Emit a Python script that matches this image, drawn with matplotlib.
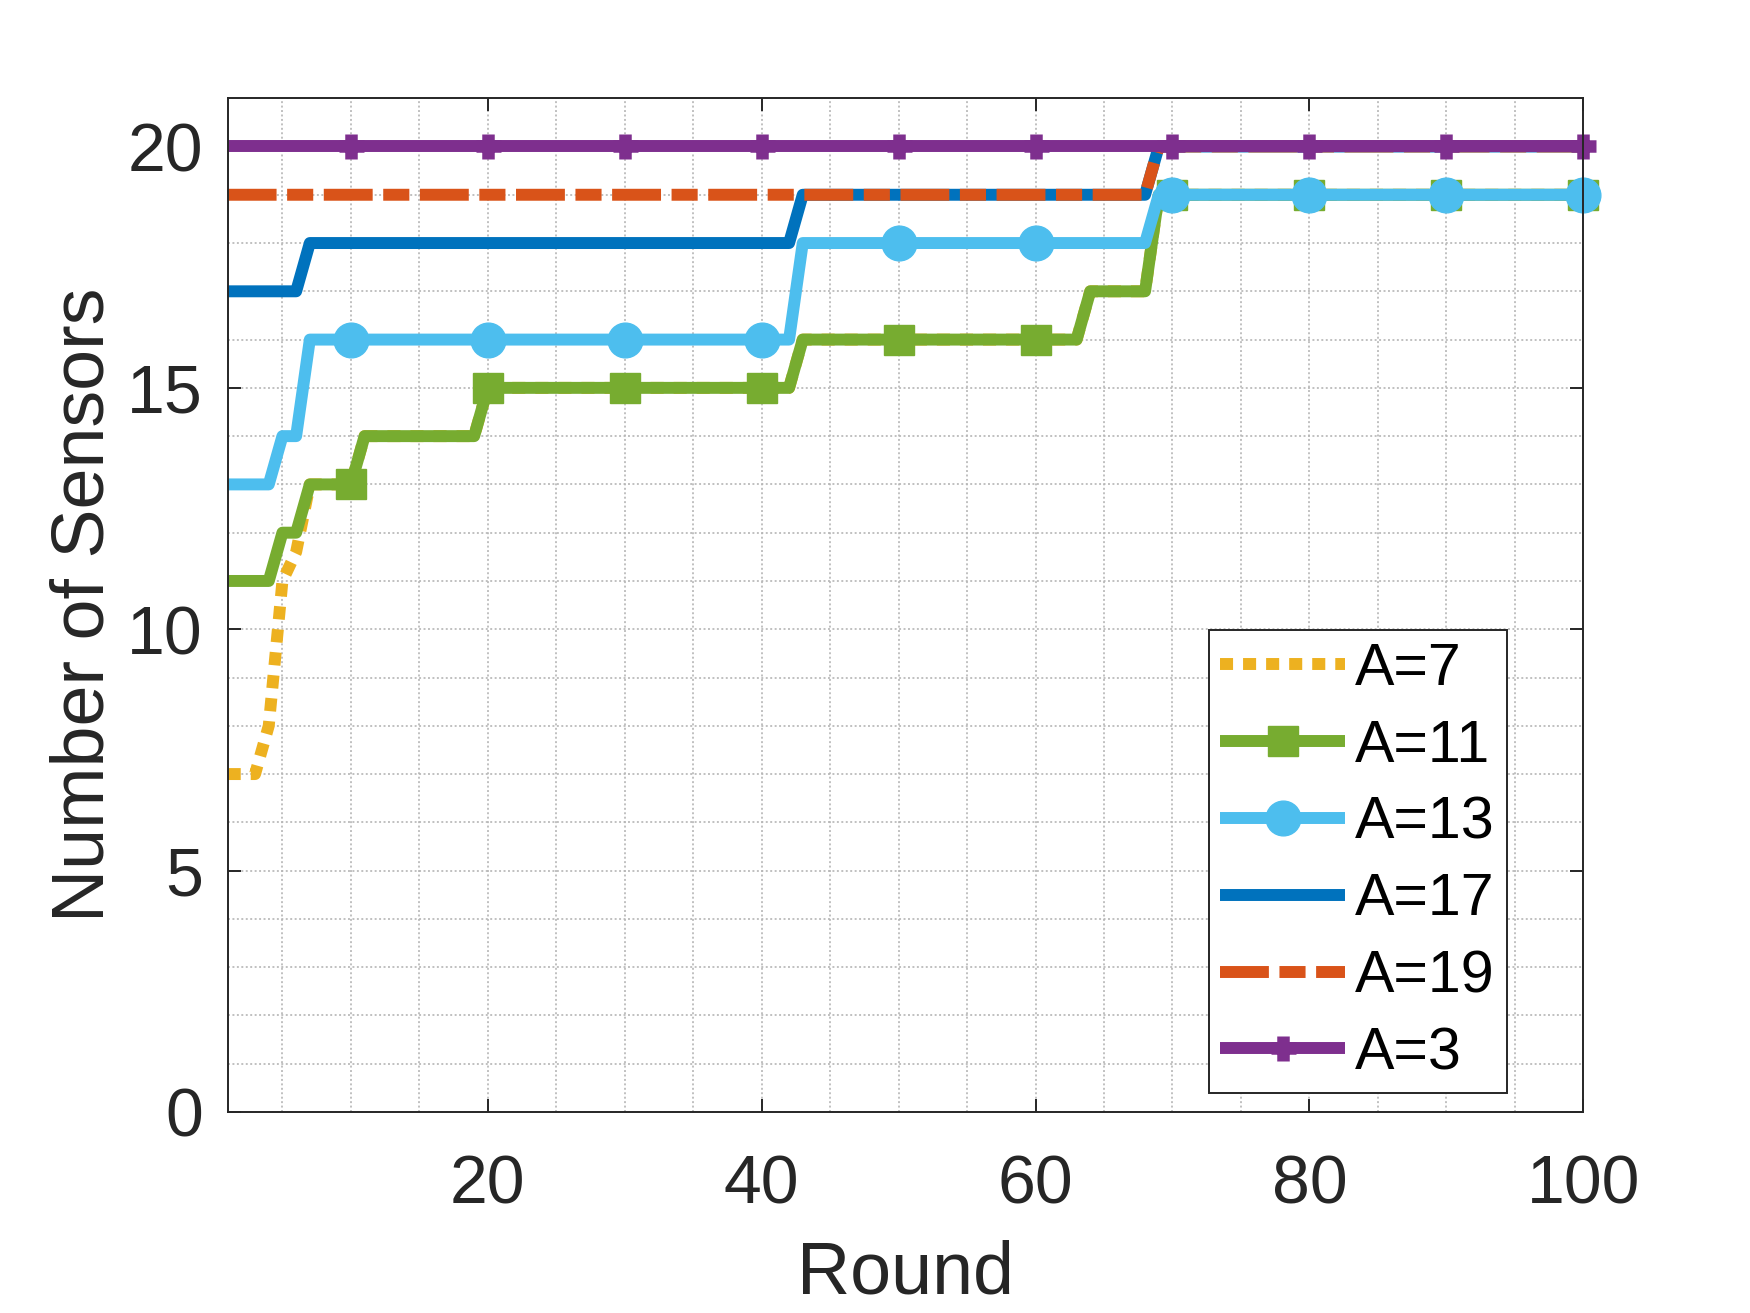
import numpy as np
import matplotlib
matplotlib.use('Agg')
import matplotlib.pyplot as plt
from matplotlib.ticker import MultipleLocator

plt.rcParams['font.family'] = ['Liberation Sans', 'DejaVu Sans']
plt.rcParams['lines.scale_dashes'] = False

# Данные: уровни и длины серий (в раундах)
rounds = np.arange(1, 101)

a7_levels = [7, 8, 11, 11.6, 13, 14, 15, 16, 17, 19]
a7_runs = [3, 1, 1, 1, 4, 9, 23, 21, 5, 32]

a11_levels = [11, 12, 13, 14, 15, 16, 17, 19]
a11_runs = [4, 2, 4, 9, 23, 21, 5, 32]

a13_levels = [13, 14, 16, 18, 19]
a13_runs = [4, 2, 36, 26, 32]

a17_levels = [17, 18, 19, 20]
a17_runs = [6, 36, 26, 32]

a19_levels = [19, 20]
a19_runs = [68, 32]

a3_levels = [20]
a3_runs = [100]

labels = ['A=7', 'A=11', 'A=13', 'A=17', 'A=19', 'A=3']

a7 = np.repeat(a7_levels, a7_runs)
a11 = np.repeat(a11_levels, a11_runs)
a13 = np.repeat(a13_levels, a13_runs)
a17 = np.repeat(a17_levels, a17_runs)
a19 = np.repeat(a19_levels, a19_runs)
a3 = np.repeat(a3_levels, a3_runs)

# Стили
lw = 4.3
marks = slice(9, 100, 10)
common = dict(lw=lw, clip_on=False, solid_joinstyle='round', dash_joinstyle='round',
              solid_capstyle='butt', dash_capstyle='butt')

fig = plt.figure(figsize=(8.75, 6.565), dpi=200)
ax = fig.add_axes([0.1301, 0.1531, 0.7746, 0.7721])

ax.plot(rounds, a7, color='#EDB120', linestyle=(0, (4.7, 3.6)), label=labels[0], **common)
ax.plot(rounds, a11, color='#77AC30', marker='s', ms=11, mew=0.5, markevery=marks,
        label=labels[1], **common)
ax.plot(rounds, a13, color='#4DBEEE', marker='o', ms=12.5, mew=0.5, markevery=marks,
        label=labels[2], **common)
ax.plot(rounds, a17, color='#0072BD', label=labels[3], **common)
ax.plot(rounds, a19, color='#D95319', linestyle=(0, (17.6, 3.8, 9.4, 3.8)),
        label=labels[4], **common)
ax.plot(rounds, a3, color='#7E2F8E', marker='+', ms=9, mew=4.5, markevery=marks,
        label=labels[5], **common)

ax.set_xlim(1, 100)
ax.set_ylim(0, 21)
ax.xaxis.set_major_locator(MultipleLocator(20))
ax.xaxis.set_minor_locator(MultipleLocator(5))
ax.yaxis.set_major_locator(MultipleLocator(5))
ax.yaxis.set_minor_locator(MultipleLocator(1))

ax.grid(which='both', color='#b5b5b5', lw=0.6, linestyle=(0, (0.7, 0.9)))
ax.set_axisbelow(True)

ax.tick_params(which='major', direction='in', length=4.7, width=0.7, color='#262626',
               labelcolor='#262626', labelsize=24.5, top=True, right=True)
ax.tick_params(axis='x', which='major', pad=15)
ax.tick_params(axis='y', which='major', pad=9)
ax.tick_params(which='minor', length=0, top=True, right=True)
for s in ax.spines.values():
    s.set_color('#262626')
    s.set_linewidth(0.7)

ax.set_xlabel('Round', fontsize=26.5, color='#262626', labelpad=8)
ax.set_ylabel('Number of Sensors', fontsize=26.5, color='#262626', labelpad=3)

leg = ax.legend(loc='lower right', bbox_to_anchor=(0.9437, 0.0187), borderaxespad=0,
                fontsize=21.3, fancybox=False, framealpha=1, edgecolor='#262626',
                handlelength=2.11, handletextpad=0.17, labelspacing=0.37, borderpad=0.2)
leg.get_frame().set_linewidth(0.7)

fig.savefig('out.png', dpi=200)
